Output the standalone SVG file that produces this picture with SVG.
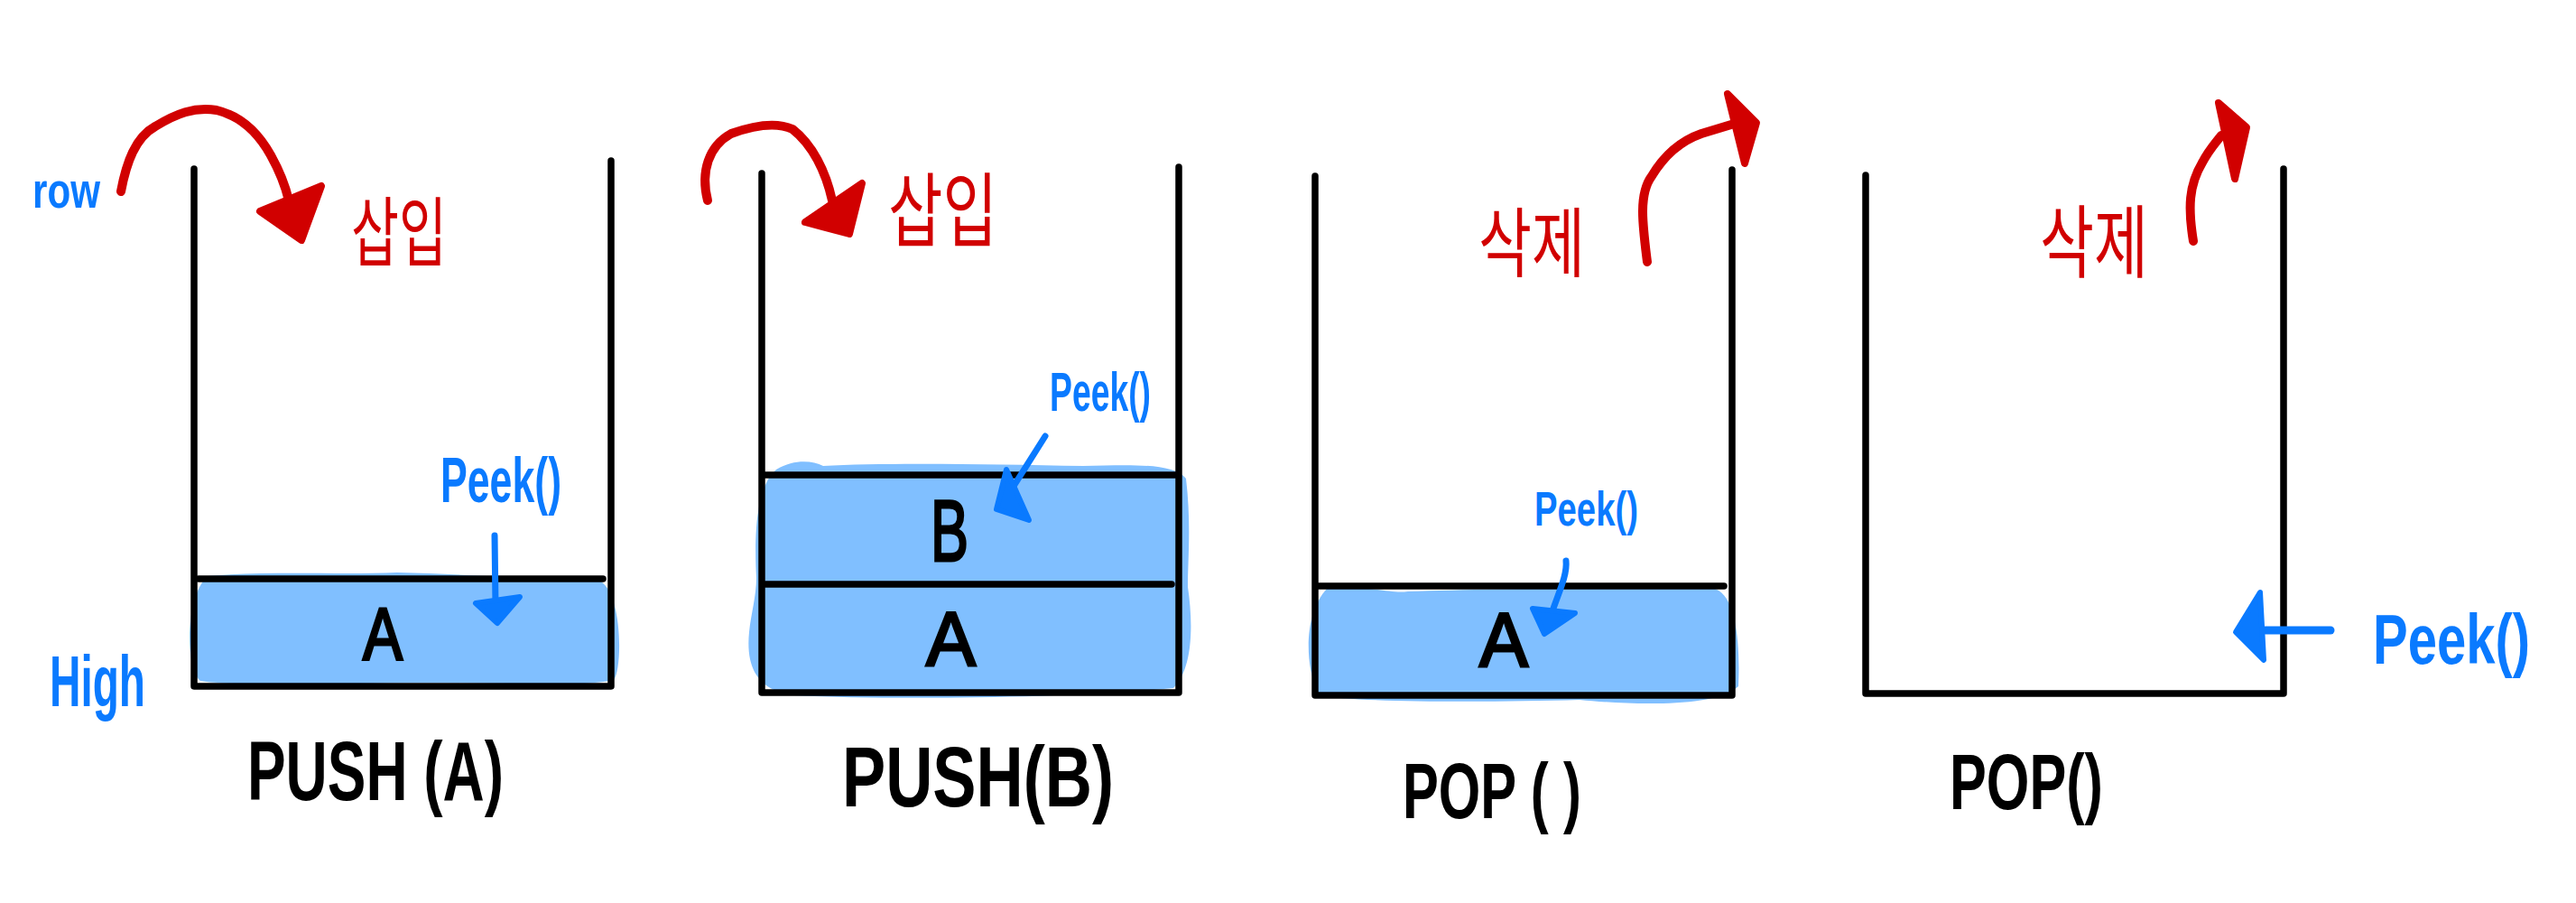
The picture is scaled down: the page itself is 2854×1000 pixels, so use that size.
<svg xmlns="http://www.w3.org/2000/svg" width="2854" height="1000" viewBox="0 0 2854 1000">
<style>
.bg{fill:#ffffff}
.wall{fill:none;stroke:#000;stroke-width:7.5;stroke-linecap:round;stroke-linejoin:round}
.fill{fill:#80BFFF}
.red{fill:none;stroke:#D10000;stroke-width:10;stroke-linecap:round;stroke-linejoin:round}
.redhead{fill:#D10000;stroke:#D10000;stroke-width:8;stroke-linejoin:round}
.blue{fill:none;stroke:#0A7AFF;stroke-width:7;stroke-linecap:round;stroke-linejoin:round}
.bluehead{fill:#0A7AFF;stroke:#0A7AFF;stroke-width:6;stroke-linejoin:round}
.lab{font-family:"Liberation Sans","Noto Sans",sans-serif;font-weight:bold;fill:#000}
.item{font-family:"Liberation Sans","Noto Sans",sans-serif;font-weight:normal;fill:#000;stroke:#000;stroke-width:3}
.bt{font-family:"Liberation Sans","Noto Sans",sans-serif;font-weight:bold;fill:#0A7AFF}
.kr{font-family:"Noto Sans CJK KR",sans-serif;font-weight:normal;fill:#D10000}
</style>
<rect class="bg" x="0" y="0" width="2854" height="1000"/>

<g id="stack-push-a">
  <path class="fill" d="M230,638 C300,632 380,637 440,634 C520,636 600,642 662,642 C690,652 690,740 680,753 C640,762 560,755 450,756 C350,758 260,760 222,754 C205,740 205,660 230,638 Z"/>
  <path class="wall" d="M215,187 L215,760 L677,760 L677,178"/>
  <path class="wall" d="M220,641 L668,641"/>
  <text class="item" x="402" y="730" font-size="82" textLength="44" lengthAdjust="spacingAndGlyphs">A</text>
  <text class="lab" x="274" y="886" font-size="92" textLength="284" lengthAdjust="spacingAndGlyphs">PUSH (A)</text>
  <text class="bt" x="488" y="556" font-size="70" textLength="134" lengthAdjust="spacingAndGlyphs">Peek()</text>
  <text class="bt" x="36" y="230" font-size="56" textLength="75" lengthAdjust="spacingAndGlyphs">row</text>
  <text class="bt" x="55" y="782" font-size="80" textLength="106" lengthAdjust="spacingAndGlyphs">High</text>
  <text class="kr" x="389" y="288" font-size="84" textLength="106" lengthAdjust="spacingAndGlyphs">삽입</text>
</g>

<g id="stack-push-b">
  <path class="fill" d="M860,520 C880,508 900,510 912,516 C980,512 1100,514 1200,516 C1250,515 1300,512 1314,530 C1320,580 1316,620 1316,650 C1322,690 1322,740 1300,762 C1200,772 1000,776 880,770 C840,765 826,740 830,700 C832,680 838,660 838,640 C836,600 836,540 860,520 Z"/>
  <path class="wall" d="M844,192 L844,767 L1306,767 L1306,185"/>
  <path class="wall" d="M848,526 L1302,526"/>
  <path class="wall" d="M848,647 L1298,647"/>
  <text class="item" x="1031" y="621" font-size="96" textLength="42" lengthAdjust="spacingAndGlyphs">B</text>
  <text class="item" x="1026" y="737" font-size="86" textLength="55" lengthAdjust="spacingAndGlyphs">A</text>
  <text class="lab" x="933" y="893" font-size="94" textLength="301" lengthAdjust="spacingAndGlyphs">PUSH(B)</text>
  <text class="bt" x="1163" y="455" font-size="62" textLength="112" lengthAdjust="spacingAndGlyphs">Peek()</text>
  <text class="kr" x="984" y="266" font-size="90" textLength="121" lengthAdjust="spacingAndGlyphs">삽입</text>
</g>

<g id="stack-pop-1">
  <path class="fill" d="M1470,652 C1520,648 1540,658 1560,655 C1650,652 1800,650 1900,652 C1925,660 1928,720 1926,760 C1900,785 1800,780 1750,775 C1650,778 1500,778 1462,770 C1445,740 1444,680 1470,652 Z"/>
  <path class="wall" d="M1457,195 L1457,770 L1919,770 L1919,188"/>
  <path class="wall" d="M1461,649 L1910,649"/>
  <text class="item" x="1639" y="738" font-size="86" textLength="54" lengthAdjust="spacingAndGlyphs">A</text>
  <text class="lab" x="1554" y="906" font-size="88" textLength="198" lengthAdjust="spacingAndGlyphs">POP ( )</text>
  <text class="bt" x="1700" y="582" font-size="54" textLength="115" lengthAdjust="spacingAndGlyphs">Peek()</text>
  <text class="kr" x="1638" y="300" font-size="84" textLength="118" lengthAdjust="spacingAndGlyphs">삭제</text>
</g>

<g id="stack-pop-2">
  <path class="wall" d="M2067,194 L2067,768 L2530,768 L2530,187"/>
  <text class="lab" x="2160" y="896" font-size="88" textLength="170" lengthAdjust="spacingAndGlyphs">POP()</text>
  <text class="bt" transform="translate(2629,735) scale(1,1.35)" x="0" y="0" font-size="58">Peek()</text>
  <text class="kr" x="2260" y="300" font-size="88" textLength="120" lengthAdjust="spacingAndGlyphs">삭제</text>
</g>

<g id="connectors">
  <path class="red" d="M134,212 C140,180 150,152 172,140 C195,126 215,118 240,122 C265,128 285,145 300,172 C310,190 316,205 320,222"/>
  <polygon class="redhead" points="288,234 356,206 334,266"/>
  <path class="red" d="M784,222 C776,190 785,162 810,148 C835,139 860,135 878,143 C900,160 915,190 922,222"/>
  <polygon class="redhead" points="892,246 955,203 941,259"/>
  <path class="red" d="M1825,290 C1820,250 1815,215 1830,195 C1845,170 1865,155 1885,148 L1918,138"/>
  <polygon class="redhead" points="1914,104 1946,136 1933,181"/>
  <path class="red" d="M2430,267 C2424,230 2425,205 2440,180 C2448,165 2455,158 2461,150"/>
  <polygon class="redhead" points="2458,114 2489,141 2476,198"/>

  <path class="blue" d="M548,593 L549,672"/>
  <polygon class="bluehead" points="527,668 576,661 551,690"/>
  <path class="blue" d="M1158,483 L1122,540"/>
  <polygon class="bluehead" points="1115,520 1104,564 1140,576"/>
  <path class="blue" d="M1735,621 C1737,640 1722,665 1716,690"/>
  <polygon class="bluehead" points="1698,674 1745,679 1711,702"/>
  <path class="blue" style="stroke-width:9" d="M2582,698 L2510,698"/>
  <polygon class="bluehead" points="2504,656 2477,700 2508,731"/>
</g>
</svg>
